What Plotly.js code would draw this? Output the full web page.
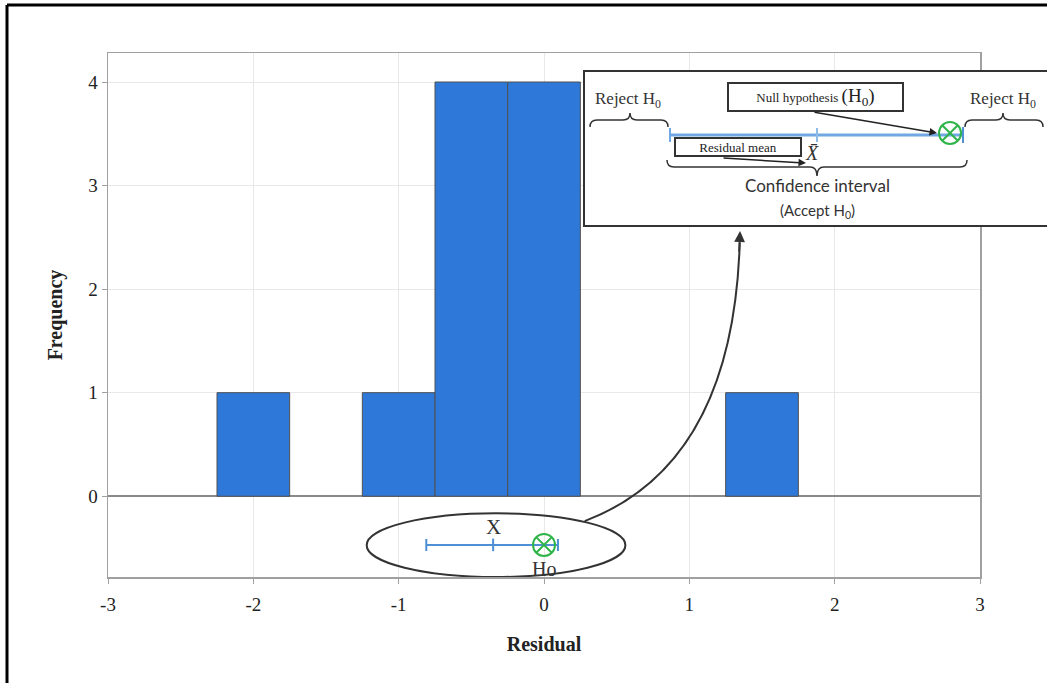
<!DOCTYPE html>
<html><head><meta charset="utf-8">
<script src="https://cdn.plot.ly/plotly-3.0.1.min.js"></script>
<style>html,body{margin:0;padding:0;background:#fff}#chart{width:1047px;height:683px}</style>
</head><body><div id="chart"></div>
<script>
// ---- data ----
const binCenters = [-2, -1, -0.5, 0, 1.5];
const frequencies = [1, 1, 4, 4, 1];
const binWidth = 0.5;
const residualMean = -0.35;
const ciLower = -0.81;
const ciUpper = 0.096;
const nullValue = 0;
const intervalRow = -0.47;
const xTicks = [-3, -2, -1, 0, 1, 2, 3];
const yTicks = [0, 1, 2, 3, 4];

// ---- geometry helpers (plot area in pixels) ----
const W = 1047, H = 683;
const L = 108, R = 980, T = 53, B = 577;
const px = x => (x - L) / (R - L);
const py = y => (B - y) / (B - T);
const serif = 'Liberation Serif, Times New Roman, serif';
const sans = 'Lato, Open Sans, sans-serif';
const blue = '#4f8fd6';
const green = '#2fb44a';

function brace(x1, x2, y, dir, tip, xm) {
  xm = xm === undefined ? (x1 + x2) / 2 : xm;
  const e = -dir * 7, t = dir * tip, r = 7;
  const P = (x, yy) => px(x).toFixed(5) + ',' + py(yy).toFixed(5);
  return 'M' + P(x1, y + e) + ' Q' + P(x1, y) + ' ' + P(x1 + r, y) +
    ' L' + P(xm - r, y) + ' Q' + P(xm, y) + ' ' + P(xm, y + t) +
    ' Q' + P(xm, y) + ' ' + P(xm + r, y) +
    ' L' + P(x2 - r, y) + ' Q' + P(x2, y) + ' ' + P(x2, y + e);
}
function pline(x0, y0, x1, y1, color, width) {
  return {type: 'line', xref: 'paper', yref: 'paper', x0: px(x0), y0: py(y0), x1: px(x1), y1: py(y1),
    line: {color: color, width: width}, layer: 'above'};
}

const traces = [
  {
    type: 'bar', x: binCenters, y: frequencies, width: binWidth,
    marker: {color: '#2d78d8', line: {color: '#505050', width: 1}},
    hoverinfo: 'x+y', showlegend: false
  },
  {
    type: 'scatter', mode: 'markers', x: [residualMean], y: [intervalRow],
    marker: {symbol: 'line-ns-open', size: 9, line: {color: blue, width: 2}, color: blue},
    error_x: {type: 'data', symmetric: false, array: [ciUpper - residualMean],
      arrayminus: [residualMean - ciLower], color: blue, thickness: 2, width: 6},
    showlegend: false
  },
  {
    type: 'scatter', mode: 'markers', x: [nullValue], y: [intervalRow],
    marker: {symbol: 'circle-x-open', size: 22, line: {color: green, width: 2}, color: green},
    showlegend: false
  }
];

const shapes = [
  {type: 'circle', xref: 'x', yref: 'y', x0: -1.22, x1: 0.56, y0: -0.78, y1: -0.165,
    line: {color: '#333', width: 2}, layer: 'above'},
  {type: 'path', xref: 'x', yref: 'y', path: 'M0.28,-0.24 Q1.30,0.30 1.347,2.45',
    line: {color: '#333', width: 2}, layer: 'above'},
  {type: 'line', xref: 'paper', yref: 'paper', x0: px(7), x1: px(1060), y0: py(5), y1: py(5),
    line: {color: '#000', width: 3}},
  {type: 'line', xref: 'paper', yref: 'paper', x0: px(7), x1: px(7), y0: py(5), y1: py(700),
    line: {color: '#000', width: 3}},
  {type: 'rect', xref: 'paper', yref: 'paper', x0: px(584), x1: px(1062), y0: py(226), y1: py(71),
    line: {color: '#333', width: 2}, fillcolor: '#fff', layer: 'above'},
  pline(670, 135, 963, 135, '#6fa8e2', 3),
  pline(670, 128, 670, 142, '#6fa8e2', 2),
  pline(963, 127, 963, 143, '#4f8fd6', 2),
  pline(817, 128, 817, 142, '#8dbbe8', 2),
  {type: 'circle', xref: 'paper', yref: 'paper', x0: px(939), x1: px(961), y0: py(144), y1: py(122),
    line: {color: green, width: 2}, layer: 'above'},
  pline(942.2, 125.2, 957.8, 140.8, green, 2),
  pline(942.2, 140.8, 957.8, 125.2, green, 2),
  {type: 'path', xref: 'paper', yref: 'paper', path: brace(590, 668, 120, -1, 7, 630),
    line: {color: '#333', width: 1.5}, layer: 'above'},
  {type: 'path', xref: 'paper', yref: 'paper', path: brace(965, 1043, 120, -1, 7, 1003),
    line: {color: '#333', width: 1.5}, layer: 'above'},
  {type: 'path', xref: 'paper', yref: 'paper', path: brace(667, 967, 167, 1, 9, 817),
    line: {color: '#333', width: 1.5}, layer: 'above'}
];

function ptext(x, y, text, size, family, color, extra) {
  return Object.assign({xref: 'paper', yref: 'paper', x: px(x), y: py(y), text: text, showarrow: false,
    font: {family: family, size: size, color: color || '#222'}, xanchor: 'center', yanchor: 'middle'}, extra || {});
}

const annotations = [
  {x: residualMean, y: -0.30, xref: 'x', yref: 'y', text: 'X', showarrow: false,
    font: {family: serif, size: 21, color: '#333'}},
  {x: nullValue, y: -0.70, xref: 'x', yref: 'y', text: 'Ho', showarrow: false,
    font: {family: serif, size: 20, color: '#333'}},
  {x: 1.349, y: 2.56, xref: 'x', yref: 'y', ax: -1, ay: 22, text: '', showarrow: true,
    arrowhead: 2, arrowsize: 1.2, arrowwidth: 1.8, arrowcolor: '#333', standoff: 0},
  ptext(628, 100, 'Reject H<sub>0</sub>', 17, serif, '#333'),
  ptext(1003, 100, 'Reject H<sub>0</sub>', 17, serif, '#333'),
  ptext(815.5, 97.5, 'Null hypothesis <span style="font-size:19px">(H<sub>0</sub>)</span>', 13, serif, '#222',
    {bordercolor: '#333', borderwidth: 2, borderpad: 1, bgcolor: '#fff', width: 171, height: 24}),
  ptext(737.5, 147.5, 'Residual mean', 13, serif, '#222',
    {bordercolor: '#333', borderwidth: 2, borderpad: 0, bgcolor: '#fff', width: 124, height: 16}),
  ptext(812, 153, '<i>X̄</i>', 20, serif, '#333'),
  ptext(817, 185, 'Confidence interval', 17, sans, '#333'),
  ptext(817, 211, '(Accept H<sub>0</sub>)', 15, sans, '#333'),
  {xref: 'paper', yref: 'paper', x: px(937), y: py(133), ax: 813 - 937, ay: 112 - 133, text: '',
    showarrow: true, arrowhead: 2, arrowsize: 1, arrowwidth: 1.5, arrowcolor: '#222', standoff: 0},
  {xref: 'paper', yref: 'paper', x: px(806), y: py(163), ax: 722 - 806, ay: 158 - 163, text: '',
    showarrow: true, arrowhead: 2, arrowsize: 1, arrowwidth: 1.5, arrowcolor: '#222', standoff: 0}
];

const axisCommon = {
  showgrid: true, gridcolor: '#e8e8e8', gridwidth: 1,
  showline: true, linecolor: '#a0a0a0', linewidth: 1.5, mirror: true,
  ticks: 'outside', ticklen: 5, tickcolor: '#a0a0a0', tickwidth: 1,
  tickfont: {family: serif, size: 19, color: '#222'}
};

const layout = {
  width: W, height: H,
  margin: {l: L, r: W - R, t: T, b: H - B},
  paper_bgcolor: '#fff', plot_bgcolor: '#fff',
  showlegend: false, bargap: 0,
  xaxis: Object.assign({}, axisCommon, {
    range: [-3, 3], tickvals: xTicks, ticktext: xTicks.map(String), zeroline: false,
    ticklabelstandoff: 5,
    title: {text: '<b>Residual</b>', font: {family: serif, size: 20, color: '#222'}, standoff: 22}
  }),
  yaxis: Object.assign({}, axisCommon, {
    range: [-0.78, 4.28], tickvals: yTicks, ticktext: yTicks.map(String),
    zeroline: true, zerolinecolor: '#8a8a8a', zerolinewidth: 1.5,
    title: {text: '<b>Frequency</b>', font: {family: serif, size: 20, color: '#222'}, standoff: 20}
  }),
  shapes: shapes,
  annotations: annotations
};

Plotly.newPlot('chart', traces, layout, {displayModeBar: false, staticPlot: true});
</script>
</body></html>
